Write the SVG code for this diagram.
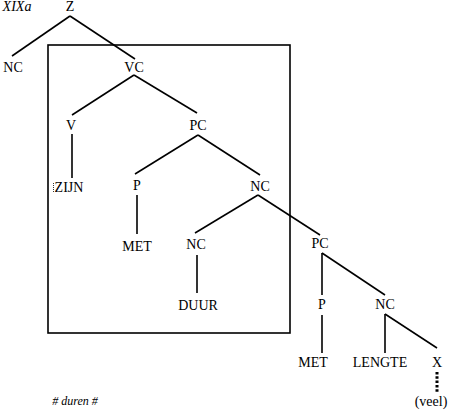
<svg xmlns="http://www.w3.org/2000/svg" width="450" height="411" viewBox="0 0 450 411">
<style>
text{font-family:"Liberation Serif","Times New Roman",serif;font-size:14px;fill:#000;text-anchor:middle}
.it{font-style:italic}
.sm{font-size:12px}
.e{stroke:#000;stroke-width:1.6;fill:none;stroke-linecap:butt}
</style>
<rect width="450" height="411" fill="#fff"/>
<g id="box"><rect x="48" y="45" width="242" height="288" fill="none" stroke="#000" stroke-width="1.6"/></g>
<g id="connectors" class="e">
<line x1="70" y1="16" x2="12" y2="56"/>
<line x1="70" y1="16" x2="135" y2="59"/>
<line x1="134" y1="75" x2="72" y2="115"/>
<line x1="134" y1="75" x2="197" y2="113"/>
<line x1="72" y1="134" x2="72" y2="178"/>
<line x1="198" y1="135" x2="135" y2="174"/>
<line x1="198" y1="135" x2="260" y2="175"/>
<line x1="137" y1="195" x2="137" y2="234"/>
<line x1="258" y1="195" x2="195" y2="233"/>
<line x1="258" y1="195" x2="320" y2="235"/>
<line x1="197" y1="255" x2="197" y2="293"/>
<line x1="322" y1="253" x2="322" y2="295"/>
<line x1="322" y1="253" x2="385" y2="295"/>
<line x1="322" y1="315" x2="322" y2="353"/>
<line x1="385" y1="314" x2="385" y2="353"/>
<line x1="385" y1="314" x2="437" y2="348"/>
<line x1="437" y1="372" x2="437" y2="393" stroke-width="3" stroke-dasharray="2.5,1.8"/>
<line x1="53.5" y1="183" x2="53.5" y2="192" stroke-width="0.8" stroke-dasharray="1,1"/>
</g>
<text class="it" x="17" y="11">XIXa</text>
<g id="n-Z"><text x="70" y="11">Z</text></g>
<g id="n-NC1"><text x="13" y="72">NC</text></g>
<g id="n-VC"><text x="134" y="72">VC</text></g>
<g id="n-V"><text x="71" y="130">V</text></g>
<g id="n-ZIJN"><text x="69" y="192">ZIJN</text></g>
<g id="n-PC1"><text x="198" y="130">PC</text></g>
<g id="n-P1"><text x="137" y="190">P</text></g>
<g id="n-NC2"><text x="260" y="191">NC</text></g>
<g id="n-MET1"><text x="137" y="251">MET</text></g>
<g id="n-NC3"><text x="196" y="249">NC</text></g>
<g id="n-DUUR"><text x="198" y="310">DUUR</text></g>
<g id="n-PC2"><text x="320" y="248">PC</text></g>
<g id="n-P2"><text x="322" y="309">P</text></g>
<g id="n-NC4"><text x="385" y="309">NC</text></g>
<g id="n-MET2"><text x="313" y="367">MET</text></g>
<g id="n-LENGTE"><text x="380" y="367">LENGTE</text></g>
<g id="n-X"><text x="437" y="367">X</text></g>
<g id="n-veel"><text x="431" y="406">(veel)</text></g>
<text class="it sm" x="75" y="405"># duren #</text>
</svg>
